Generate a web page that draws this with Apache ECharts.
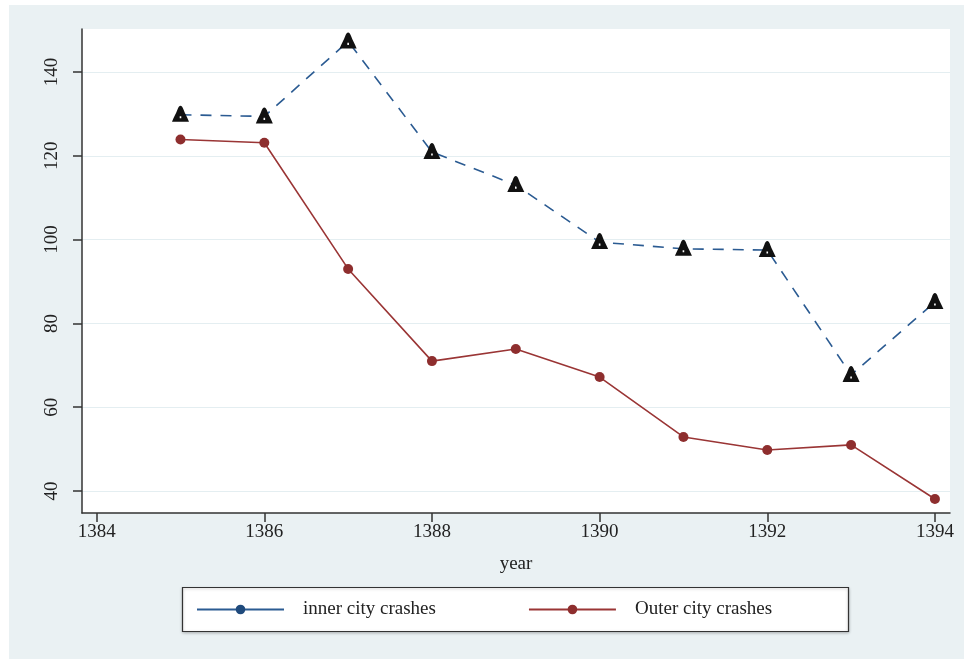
<!DOCTYPE html>
<html>
<head>
<meta charset="utf-8">
<script src="https://cdn.jsdelivr.net/npm/echarts@6/dist/echarts.min.js"></script>
<style>html,body{margin:0;padding:0;background:#fff}#c{width:964px;height:659px}</style>
</head>
<body>
<div id="c"></div>
<script>
const years = [1385, 1386, 1387, 1388, 1389, 1390, 1391, 1392, 1393, 1394];
const innerCity = [129.8, 129.4, 147.3, 120.9, 113.0, 99.4, 97.8, 97.5, 67.7, 85.1];
const outerCity = [123.9, 123.1, 93.0, 71.0, 73.9, 67.2, 52.9, 49.8, 51.0, 38.1];
const xTicks = [1384, 1386, 1388, 1390, 1392, 1394];
const yTicks = [40, 60, 80, 100, 120, 140];
const seriesNames = ['inner city crashes', 'Outer city crashes'];
const xTitle = 'year';

const pairs = (xs, ys) => xs.map((x, i) => [x, ys[i]]);
const FONT = '"Liberation Serif", "DejaVu Serif", serif';
const TRI = 'path://M0,16 C2,12 4,9 5.5,5.5 C7,1 10,1 11.5,5.5 C13,9 15,12 17,16 Z M7.7,11.2 L7.7,13 L9.3,13 L9.3,11.2 Z';
const chart = echarts.init(document.getElementById('c'), null, {renderer: 'canvas'});
chart.setOption({
  backgroundColor: '#ffffff',
  animation: false,
  textStyle: {fontFamily: FONT},
  graphic: [
    {type: 'rect', z: -10, shape: {x: 9, y: 5, width: 955, height: 654}, style: {fill: '#eaf1f3'}},
    {type: 'rect', z: -5, shape: {x: 182.5, y: 587.5, width: 666, height: 44}, style: {fill: '#ffffff', stroke: '#333333', lineWidth: 1.2, shadowColor: 'rgba(0,0,0,0.25)', shadowBlur: 3, shadowOffsetY: 1}}
  ],
  grid: {left: 82, right: 14, top: 29, bottom: 146, show: true, backgroundColor: '#ffffff', borderWidth: 0, containLabel: false},
  xAxis: {
    type: 'value', min: 1383.825, max: 1394.18,
    name: xTitle, nameLocation: 'middle', nameGap: 42,
    nameTextStyle: {fontFamily: FONT, fontSize: 19, color: '#222'},
    axisLine: {show: true, lineStyle: {color: '#333', width: 1.5}},
    axisTick: {show: true, length: 9, lineStyle: {color: '#333', width: 1.5}, customValues: xTicks},
    axisLabel: {fontFamily: FONT, fontSize: 19, color: '#222', margin: 10, customValues: xTicks, formatter: v => String(v)},
    splitLine: {show: false}
  },
  yAxis: {
    type: 'value', min: 34.75, max: 150.26,
    axisLine: {show: true, lineStyle: {color: '#333', width: 1.5}},
    axisTick: {show: true, length: 9, lineStyle: {color: '#333', width: 1.5}, customValues: yTicks},
    axisLabel: {fontFamily: FONT, fontSize: 19, color: '#222', margin: 20, rotate: 90, customValues: yTicks},
    splitLine: {show: false}
  },
  legend: {
    left: 196, top: 600, padding: 0,
    itemWidth: 87, itemHeight: 12, itemGap: 92,
    textStyle: {fontFamily: FONT, fontSize: 19, color: '#222', padding: [0, 0, 0, 14]},
    data: [
      {name: seriesNames[0], lineStyle: {type: 'solid', width: 2}},
      {name: seriesNames[1], lineStyle: {type: 'solid', width: 2}}
    ]
  },
  series: [
    {
      name: seriesNames[0], type: 'line', data: pairs(years, innerCity),
      symbol: 'none', color: '#1f4a7c',
      lineStyle: {color: '#2b5b92', width: 1.6, type: [11, 9]},
      markLine: {
        silent: true, symbol: 'none', label: {show: false}, animation: false,
        lineStyle: {color: '#e4eef1', width: 1.2, type: 'solid'},
        data: yTicks.map(v => ({yAxis: v})), z: 0
      },
      z: 3
    },
    {
      name: seriesNames[1], type: 'line', data: pairs(years, outerCity),
      symbol: 'circle', symbolSize: 10, color: '#8e2e2e',
      itemStyle: {color: '#8e2e2e'},
      lineStyle: {color: '#9a3535', width: 1.6},
      z: 3
    },
    {
      name: 'inner markers', type: 'scatter', data: pairs(years, innerCity),
      symbol: TRI, symbolSize: [17, 16], symbolOffset: [0, -1],
      itemStyle: {color: '#111', opacity: 1, borderWidth: 0}, z: 5, silent: true
    }
  ]
});
</script>
</body>
</html>
